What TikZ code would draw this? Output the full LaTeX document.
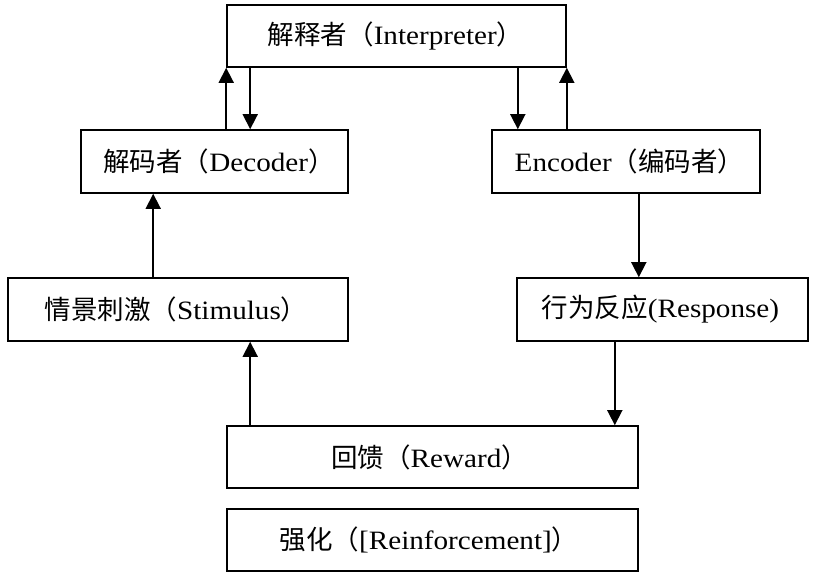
\documentclass[tikz,border=0pt]{standalone}
\usepackage{fontspec}
\setmainfont[FakeStretch=1.1]{Liberation Serif}
\newfontfamily\cjk{Noto Sans CJK SC}
\usetikzlibrary{arrows.meta}
\tikzset{
  box/.style={draw, line width=1.6pt, rectangle, inner sep=0pt, font=\fontsize{26.5}{30}\selectfont},
  arr/.style={line width=1.7pt, -{Triangle[width=15pt,length=15pt]}}
}
\newcommand{\lsh}[1]{\hspace*{#1pt}}
\begin{document}
\begin{tikzpicture}[x=1pt,y=-1pt]
\useasboundingbox (0,0) rectangle (816,581);
\node[box, minimum width=339pt, minimum height=62pt] (interp) at (396.5,36) {{\cjk 解释者（}Interpreter{\cjk ）}\lsh{2}};
\node[box, minimum width=267pt, minimum height=63pt] (dec) at (214.5,161.5) {{\cjk 解码者（}Decoder{\cjk ）}\lsh{-9}};
\node[box, minimum width=268pt, minimum height=63pt] (enc) at (626,161.5) {Encoder{\cjk （编码者）}\lsh{-7}};
\node[box, minimum width=340pt, minimum height=63pt] (stim) at (178,309.5) {{\cjk 情景刺激（}Stimulus{\cjk ）}\lsh{4}};
\node[box, minimum width=291pt, minimum height=63pt] (resp) at (662.5,309.5) {{\cjk 行为反应}(Response)\lsh{4}};
\node[box, minimum width=411pt, minimum height=62pt] (reward) at (432.5,457) {{\cjk 回馈（}Reward{\cjk ）}\lsh{6}};
\node[box, minimum width=411pt, minimum height=62pt] (reinf) at (432.5,540) {{\cjk 强化（}[Reinforcement]{\cjk ）}\lsh{7}};
% Decoder <-> Interpreter
\draw[arr] (interp.south west |- dec.north) -- (interp.south west);
\draw[arr] ([xshift=24pt]interp.south west) -- ([xshift=24pt]interp.south west |- dec.north);
% Interpreter <-> Encoder
\draw[arr] ([xshift=-49pt]interp.south east) -- ([xshift=-49pt]interp.south east |- enc.north);
\draw[arr] (interp.south east |- enc.north) -- (interp.south east);
% Encoder -> Response
\draw[arr] (reward.east |- enc.south) -- (reward.east |- resp.north);
% Stimulus -> Decoder
\draw[arr] ([xshift=146pt]stim.north west) -- ([xshift=146pt]stim.north west |- dec.south);
% Reward -> Stimulus
\draw[arr] ([xshift=24pt]reward.north west) -- ([xshift=24pt]reward.north west |- stim.south);
% Response -> Reward
\draw[arr] ([xshift=-24pt]reward.north east |- resp.south) -- ([xshift=-24pt]reward.north east);
\end{tikzpicture}
\end{document}
